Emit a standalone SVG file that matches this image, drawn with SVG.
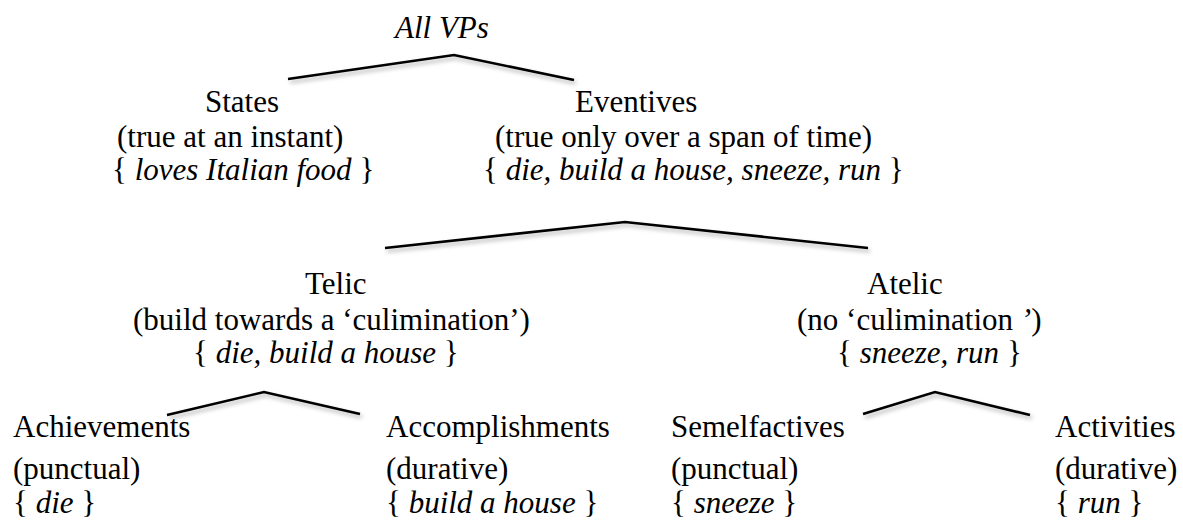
<svg xmlns="http://www.w3.org/2000/svg" width="1183" height="521" viewBox="0 0 1183 521">
  <style>
    .t { font-family: "Liberation Serif", "Times New Roman", serif; font-size: 31px; fill: #000; }
    .i { font-style: italic; }
    .edge { fill: none; stroke: #000; stroke-width: 2.6; stroke-linejoin: miter; filter: url(#sh); }
  </style>
  <defs>
    <filter id="sh" x="-10%" y="-50%" width="120%" height="250%">
      <feDropShadow dx="2" dy="3" stdDeviation="2" flood-color="#000" flood-opacity="0.3"/>
    </filter>
  </defs>
  <rect width="1183" height="521" fill="#fff"/>

  <g id="connectors">
    <polyline class="edge" points="288,79 454,55 574,80"/>
    <polyline class="edge" points="385,248 625,222 868,248"/>
    <polyline class="edge" points="167,415 264,392 360,414"/>
    <polyline class="edge" points="863,414 935,392 1030,415"/>
  </g>

  <g id="all-vps">
    <text class="t i" x="395" y="38">All VPs</text>
  </g>

  <g id="states">
    <text class="t" x="205" y="112">States</text>
    <text class="t" x="117" y="147">(true at an instant)</text>
    <text class="t" x="112" y="180">{ <tspan class="i">loves Italian food</tspan> }</text>
  </g>

  <g id="eventives">
    <text class="t" x="575" y="112">Eventives</text>
    <text class="t" x="495" y="147">(true only over a span of time)</text>
    <text class="t" x="483" y="180">{ <tspan class="i">die, build a house, sneeze, run</tspan> }</text>
  </g>

  <g id="telic">
    <text class="t" x="305" y="294">Telic</text>
    <text class="t" x="133" y="330">(build towards a ‘culimination’)</text>
    <text class="t" x="193" y="363">{ <tspan class="i">die, build a house</tspan> }</text>
  </g>

  <g id="atelic">
    <text class="t" x="867" y="294">Atelic</text>
    <text class="t" x="797" y="330">(no ‘culimination<tspan class="i"> ’</tspan>)</text>
    <text class="t" x="837" y="363">{ <tspan class="i">sneeze, run</tspan> }</text>
  </g>

  <g id="achievements">
    <text class="t" x="13" y="437">Achievements</text>
    <text class="t" x="13" y="479">(punctual)</text>
    <text class="t" x="13" y="513">{ <tspan class="i">die</tspan> }</text>
  </g>

  <g id="accomplishments">
    <text class="t" x="386" y="437">Accomplishments</text>
    <text class="t" x="386" y="479">(durative)</text>
    <text class="t" x="386" y="513">{ <tspan class="i">build a house</tspan> }</text>
  </g>

  <g id="semelfactives">
    <text class="t" x="671" y="437">Semelfactives</text>
    <text class="t" x="671" y="479">(punctual)</text>
    <text class="t" x="671" y="513">{ <tspan class="i">sneeze</tspan> }</text>
  </g>

  <g id="activities">
    <text class="t" x="1055" y="437">Activities</text>
    <text class="t" x="1055" y="479">(durative)</text>
    <text class="t" x="1055" y="513">{ <tspan class="i">run</tspan> }</text>
  </g>
</svg>
